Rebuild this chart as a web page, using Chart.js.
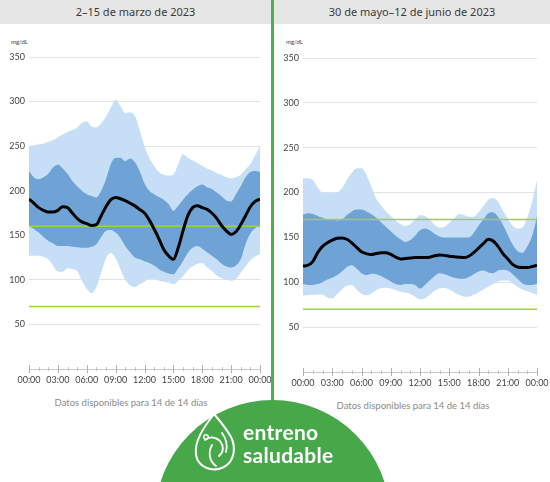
<!DOCTYPE html>
<html>
<head>
<meta charset="utf-8">
<script src="https://cdn.jsdelivr.net/npm/chart.js@4.4.1/dist/chart.umd.min.js"></script>
<style>
  html, body { margin: 0; padding: 0; background: #ffffff; }
  body { width: 550px; height: 482px; position: relative; overflow: hidden; font-family: Lato, "Noto Sans", sans-serif; }
  .bar { position: absolute; top: 0; height: 24px; background: #e6e6e6; color: #3a3a3a; font-family: "Noto Sans", sans-serif; font-weight: 400; font-size: 11px; line-height: 24px; text-align: center; }
  .unit { position: absolute; top: 38px; font-size: 6px; color: #444; }
  .foot { position: absolute; font-size: 9.5px; color: #8a8a8a; text-align: center; width: 200px; }
  canvas { position: absolute; }
  #divider { position: absolute; left: 271px; top: 0; width: 3px; height: 410px; background: #4caf50; }
  #logo { position: absolute; left: 154.5px; top: 400px; width: 235px; height: 235px; border-radius: 50%; background: #47a84a; }
  .logoText { position: absolute; left: 243px; color: #fff; font-family: Lato, sans-serif; font-weight: 700; font-size: 21px; line-height: 22px; letter-spacing: 0.3px; }
</style>
</head>
<body>
<div class="bar" style="left:0;width:271px;">2–15 de marzo de 2023</div>
<div class="bar" style="left:274px;width:276px;">30 de mayo–12 de junio de 2023</div>
<div class="unit" style="left:11px;">mg/dL</div>
<div class="unit" style="left:286px;">mg/dL</div>
<canvas id="c1" width="272" height="365" style="left:0;top:30px;"></canvas>
<canvas id="c2" width="275" height="370" style="left:275px;top:30px;"></canvas>
<div class="foot" style="left:31px;top:397px;">Datos disponibles para 14 de 14 días</div>
<div class="foot" style="left:313px;top:400px;">Datos disponibles para 14 de 14 días</div>
<div id="divider"></div>
<div id="logo"></div>
<svg style="position:absolute;left:185px;top:408px;" width="60" height="70" viewBox="185 408 60 70">
  <path d="M214,414 C203,428 194,442 196,455 C198,467 212,473 224,467 C235,461 236,447 231,437 C226,428 220,421 214,414 Z" fill="none" stroke="#fff" stroke-width="2"/>
  <path d="M205,440 C210,436 216,437 220,441 C224,446 224,452 219,456 M212,445 C208,452 209,461 216,466 M222,433 C226,438 228,446 226,452" fill="none" stroke="#fff" stroke-width="1.8" stroke-linecap="round"/>
  <circle cx="206" cy="437" r="2.2" fill="none" stroke="#fff" stroke-width="1.5"/>
</svg>
<div class="logoText" style="top:421px;">entreno</div>
<div class="logoText" style="top:444px;">saludable</div>

<script>
// ---------- DATA ----------
const hours = [0,0.5,1,1.5,2,2.5,3,3.5,4,4.5,5,5.5,6,6.5,7,7.5,8,8.5,9,9.5,10,10.5,11,11.5,12,12.5,13,13.5,14,14.5,15,15.5,16,16.5,17,17.5,18,18.5,19,19.5,20,20.5,21,21.5,22,22.5,23,23.5,24];
const xTickLabels = ['00:00','03:00','06:00','09:00','12:00','15:00','18:00','21:00','00:00'];
const yTickValues = [50,100,150,200,250,300,350];

// 2–15 de marzo de 2023
const marchP95 = [250,251,252,253,255,257,260,263,266,268,271,276,278,272,271,276,283,293,302,295,287,288,284,268,250,237,228,221,218,217,218,230,241,237,234,231,228,225,223,220,218,215,214,215,218,224,230,240,250];
const marchP75 = [222.5,215,213,215,219,226,229,225,219,211,205,200,196,194,192.5,200,213,230,237,237,233,236,232,222,208,200,196,193,190,185,177.5,183,190,196,201,205,207,204,202,198,194,189,188,196,205,215,221,222,221];
const marchP50 = [190.6,186,181,178,176,176,178,182,181,175,169,165,163,161,162,172,182,190,192.5,191,189,186,183,179,175,167,157,146,134,127,123,136,155,172,181,183,181,179,175,169,161,155,151,154,162,172,182,188,190.6];
const marchP25 = [160.7,157,153,148,144,141,138,138,138,137,136.5,136,136,137,140,148,155,156,153,147,138,131,125,123,121,119,116,112,109,107,106,113,121,130,136,138,135,131,127,123,118,115,114,116,123,140,152,158,160.7];
const marchP5  = [127,127,127,126,123,116,109,109,113,112,110,99,90,85,92,108,124,130,124,112,100,94,92,95,98,101,101,99,98,97,95,99,104,111,115,118,119,114,110,105,102,100,99,101,108,115,122,126,129];
const marchTarget = [70,160];

// 30 de mayo–12 de junio de 2023
const juneP95 = [216,216,214,206,200,200,200,200,205,214,222,227,227,220,207,193,186,179,174,169,165,163,165,170,175,174,170,164,161,162,166,171,176,175,173,173,178,185,192,194,190,180,171,163,160,161,172,190,214];
const juneP75 = [175.5,177,176,174,172,170,170,169,170,175,179,181,181,179,176,172,167,162,157,152,148,145,147,152,158,160,158,154,151,150,150,150,150,150,150,155,163,170,177,178,173,164,153,142,135,133,140,152,173];
const juneP50 = [118,119,123,133,140,144,147,149,149.5,148,144,139,134,132,131,132,133,133,131,128,126,126.5,127,127.5,127.5,127.5,128,129.5,130.5,130,129,128.5,128,127.5,129,133,138,143,148,146,140,132,126,120,117,116.5,116.5,117.5,119];
const juneP25 = [98,97,97,98,100,103,105,108,112,117,119,115,110,108,109.5,109,107,104,101,98,97,98,98,97,93,97,102,107,110,109,107,105,104,104,106,109,112,113,111,110,113,114,113,109,104,99,97,97,98];
const juneP5  = [85.5,85.5,86,86.5,86,83,82,87,92,96,97,92,87,85.5,87.5,91,93.5,94,93,91,89.5,88.5,87,84,81,82,86,90.5,93,93.5,92,89,86,84,84,86,89,92,95,98,101,102,102,99,95,92,90,88,85.5];
const juneTarget = [70,170];

// ---------- CHART ----------
const LIGHT = 'rgb(198,223,247)';
const DARK = 'rgb(112,163,213)';
const TARGET = '#9fd040';

function pts(arr) { return hours.map((h, i) => ({ x: h, y: arr[i] })); }
function flat(v) { return [{ x: hours[0], y: v }, { x: hours[hours.length - 1], y: v }]; }

// x-axis tick marks crossing the axis line (major every 3 h, minor every hour)
const crossTicks = {
  id: 'crossTicks',
  afterDraw(chart) {
    const xs = chart.scales.x, ctx = chart.ctx, y0 = chart.chartArea.bottom;
    ctx.save();
    ctx.lineWidth = 1;
    for (let i = 0; i < hours.length; i++) {
      const h = hours[i];
      if (h % 1 !== 0) continue;
      const major = h % 3 === 0;
      const x = Math.round(xs.getPixelForValue(h)) + 0.5;
      ctx.strokeStyle = major ? '#b0b0b0' : '#c4c4c4';
      ctx.beginPath();
      ctx.moveTo(x, y0 - (major ? 4 : 2));
      ctx.lineTo(x, y0 + (major ? 4 : 2));
      ctx.stroke();
    }
    ctx.restore();
  }
};

function makeChart(id, p5, p25, p50, p75, p95, target, geo) {
  const band = { pointRadius: 0, borderWidth: 0, cubicInterpolationMode: 'monotone' };
  new Chart(document.getElementById(id), {
    type: 'line',
    data: {
      datasets: [
        { data: pts(p50), borderColor: '#000', borderWidth: 3, pointRadius: 0, fill: false, cubicInterpolationMode: 'monotone' },
        { data: flat(target[1]), borderColor: TARGET, borderWidth: 1.5, pointRadius: 0, fill: false },
        { data: flat(target[0]), borderColor: TARGET, borderWidth: 1.5, pointRadius: 0, fill: false },
        Object.assign({ data: pts(p75), backgroundColor: DARK, borderColor: DARK, fill: '+1' }, band),
        Object.assign({ data: pts(p25), borderColor: DARK, fill: false }, band),
        Object.assign({ data: pts(p95), backgroundColor: LIGHT, borderColor: LIGHT, fill: '+1' }, band),
        Object.assign({ data: pts(p5), borderColor: LIGHT, fill: false }, band)
      ]
    },
    plugins: [crossTicks],
    options: {
      responsive: false,
      animation: false,
      devicePixelRatio: 1,
      events: [],
      layout: { padding: { top: geo.top, right: geo.right, bottom: geo.bottom, left: 0 } },
      plugins: { legend: { display: false }, tooltip: { enabled: false } },
      scales: {
        x: {
          type: 'linear', min: 0, max: 24,
          afterFit: s => { s.height = 22; s.paddingLeft = 0; s.paddingRight = 0; },
          ticks: {
            stepSize: 1, autoSkip: false, maxRotation: 0, padding: 2,
            font: { family: 'Lato', size: 9 }, color: '#444',
            callback: v => (v % 3 === 0 ? xTickLabels[v / 3] : '')
          },
          grid: { drawOnChartArea: false, drawTicks: true, tickLength: 4, tickColor: 'rgba(0,0,0,0)' },
          border: { display: true, color: '#c8c8c8', width: 1 }
        },
        y: {
          min: 0, max: 350,
          afterFit: s => { s.width = geo.left; s.paddingTop = 0; s.paddingBottom = 0; },
          afterBuildTicks: s => { s.ticks = [0].concat(yTickValues).map(v => ({ value: v })); },
          ticks: {
            padding: geo.tickPad, font: { family: 'Lato', size: 9 }, color: '#444',
            callback: v => (v === 0 ? '' : String(v))
          },
          grid: { drawTicks: false, color: c => (c.tick && c.tick.value === 0 ? 'rgba(0,0,0,0)' : '#e2e2e2') },
          border: { display: false }
        }
      }
    }
  });
}

makeChart('c1', marchP5, marchP25, marchP50, marchP75, marchP95, marchTarget,
  { top: 27, right: 12, bottom: 4, left: 29, tickPad: 4 });
makeChart('c2', juneP5, juneP25, juneP50, juneP75, juneP95, juneTarget,
  { top: 28, right: 13, bottom: 6, left: 28, tickPad: 4 });
</script>
</body>
</html>
